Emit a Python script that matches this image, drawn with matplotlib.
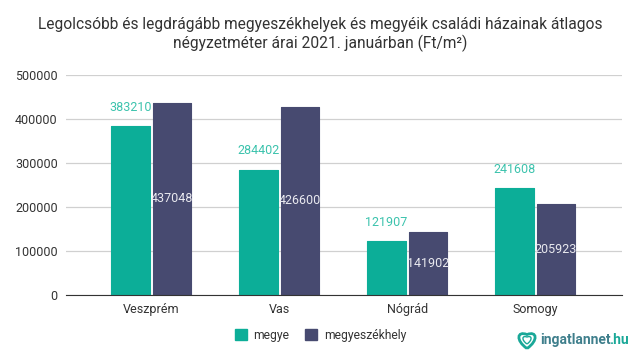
import matplotlib
matplotlib.use("Agg")
import matplotlib.pyplot as plt
import numpy as np
from matplotlib.patches import Patch, PathPatch
from matplotlib.path import Path

plt.rcParams['font.family'] = ['Roboto', 'DejaVu Sans']

categories = ['Veszprém', 'Vas', 'Nógrád', 'Somogy']
megye = [383210, 284402, 121907, 241608]
szekhely = [437048, 426600, 141902, 205923]
yticks = [0, 100000, 200000, 300000, 400000, 500000]

teal = '#0cae98'
navy = '#474a70'

fig = plt.figure(figsize=(6.4, 3.6), dpi=100)
ax = fig.add_axes([66 / 640, 1 - 294.5 / 360, 556 / 640, 219.5 / 360])

x = np.arange(len(categories))
off = 0.162
w = 0.298
# same-colour round edge gives the slightly rounded bar corners
ax.bar(x - off, megye, w, color=teal, edgecolor=teal, lw=0.8, joinstyle='round', zorder=3)
ax.bar(x + off, szekhely, w, color=navy, edgecolor=navy, lw=0.8, joinstyle='round', zorder=3)

for i in x:
    ax.annotate(str(megye[i]), (i - off, megye[i]), xytext=(0, 13.5), textcoords='offset points',
                color='#3cc3ad', fontsize=9, ha='center', va='center')
    ax.text(i + off, szekhely[i] / 2, str(szekhely[i]), color='#e9e9ef',
            fontsize=9, ha='center', va='center', zorder=4)

ax.set_xlim(-0.666, 3.678)
ax.set_ylim(0, 500000)
ax.set_yticks(yticks)
ax.set_xticks(x)
ax.set_xticklabels(categories)
ax.tick_params(axis='both', length=0, labelsize=9, labelcolor='#333333')
ax.tick_params(axis='y', pad=6)
ax.tick_params(axis='x', pad=6)
ax.grid(axis='y', color='#d0d0d0', lw=0.9, zorder=0)
for s in ['top', 'right', 'left']:
    ax.spines[s].set_visible(False)
ax.spines['bottom'].set_color('#333333')
ax.spines['bottom'].set_zorder(5)

fig.text(0.5, 1 - 34.5 / 360, 'Legolcsóbb és legdrágább megyeszékhelyek és megyéik családi házainak átlagos\n'
         'négyzetméter árai 2021. januárban (Ft/m²)', ha='center', va='center',
         fontsize=11.2, color='#333333', linespacing=1.22)

fig.legend(handles=[Patch(color=teal, label='megye'), Patch(color=navy, label='megyeszékhely')],
           loc='center', bbox_to_anchor=(320.5 / 640, 1 - 335 / 360), ncol=2, frameon=False,
           fontsize=8.7, handlelength=1, handleheight=1, handletextpad=0.55, columnspacing=1.3,
           labelcolor='#333333')

# logo: heart outline and text
def heart(cx, cy, s):
    verts = [(cx, cy - s), (cx - 1.3 * s, cy - 0.1 * s), (cx - 1.1 * s, cy + s), (cx, cy + 0.55 * s),
             (cx + 1.1 * s, cy + s), (cx + 1.3 * s, cy - 0.1 * s), (cx, cy - s)]
    codes = [Path.MOVETO, Path.CURVE4, Path.CURVE4, Path.CURVE4, Path.CURVE4, Path.CURVE4, Path.CURVE4]
    t = fig.transFigure.inverted()
    return Path(t.transform([(px, 360 - py) for px, py in [(a, 2 * cy - b) for a, b in verts]]), codes)

fig.add_artist(PathPatch(heart(527, 339.5, 9), transform=fig.transFigure, fc='none', ec='#1aa898', lw=2))
fig.add_artist(PathPatch(heart(527, 339.5, 4.5), transform=fig.transFigure, fc='none', ec='#1aa898', lw=1))

fig.text(540 / 640, 1 - 340 / 360, 'ingatlannet', ha='left', va='center',
         fontsize=10, fontweight='bold', color='#3f7f8c')
fig.text(609 / 640, 1 - 340 / 360, '.hu', ha='left', va='center',
         fontsize=10, fontweight='bold', color='#1aa898')

plt.savefig('out.png', dpi=100)
